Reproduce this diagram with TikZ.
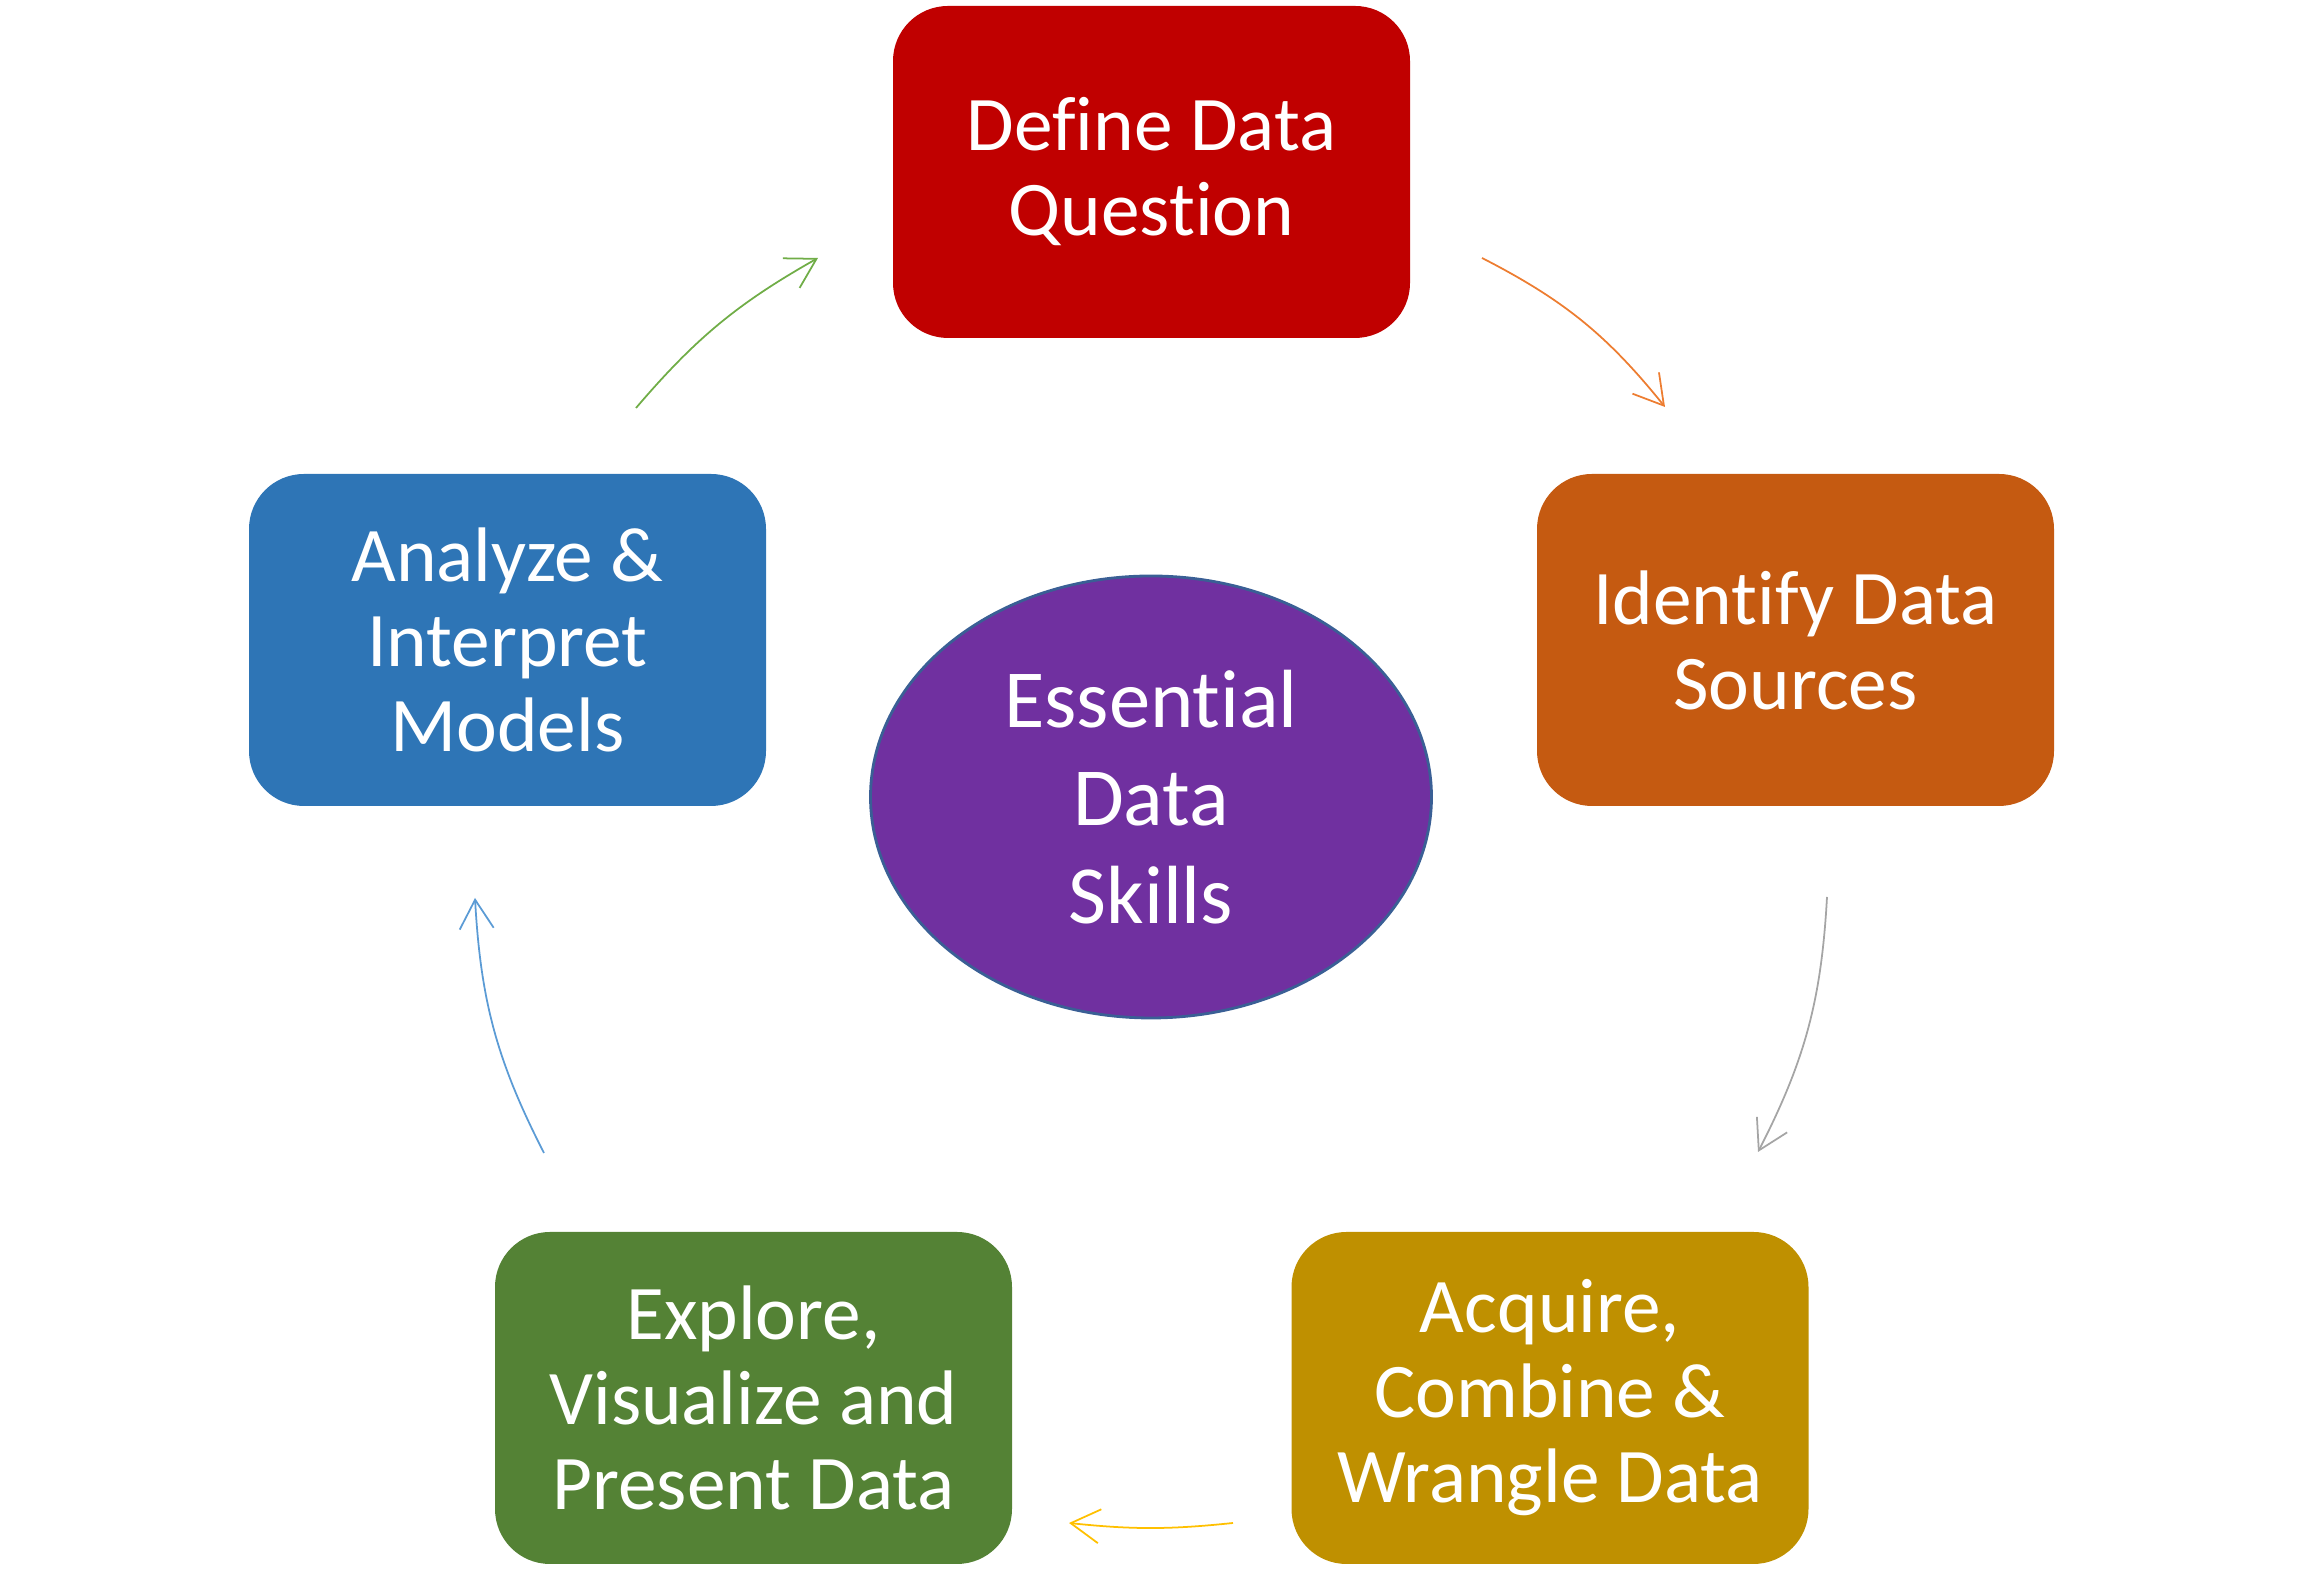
\documentclass[tikz,border=0pt]{standalone}
\usepackage{fontspec}
\setmainfont[Ligatures=NoCommon]{Carlito}
\usetikzlibrary{arrows.meta,shapes.geometric}
\definecolor{stepred}{HTML}{C00000}
\definecolor{steporange}{HTML}{C55A11}
\definecolor{stepgold}{HTML}{BF9000}
\definecolor{stepgreen}{HTML}{548235}
\definecolor{stepblue}{HTML}{2E75B6}
\definecolor{corepurple}{HTML}{7030A0}
\definecolor{coreline}{HTML}{3A5F95}
\definecolor{arrgreen}{HTML}{70AD47}
\definecolor{arrorange}{HTML}{ED7D31}
\definecolor{arrgray}{HTML}{A5A5A5}
\definecolor{arryellow}{HTML}{FFC000}
\definecolor{arrblue}{HTML}{5B9BD5}
\begin{document}
\begin{tikzpicture}[
    stepbox/.style={rounded corners=0.55cm,minimum width=5.17cm,minimum height=3.32cm,
        align=center,text=white,font=\fontsize{22}{24.2}\selectfont},
    cyclearrow/.style={line width=0.5pt,-{Straight Barb[length=0.29cm,width=0.34cm]}}]
        \useasboundingbox (0,0) rectangle (23.03,15.91);
        %CENTRE
        \node[ellipse,fill=corepurple,draw=coreline,line width=0.8pt,minimum width=5.61cm,minimum height=4.42cm,
            align=center,text=white,font=\fontsize{23.5}{27.9}\selectfont] (core) at (11.51,7.94) {Essential\\Data\\Skills};
        %STEPS
        \node[stepbox,fill=stepred] (define) at (11.515,14.19) {Define Data\\Question};
        \node[stepbox,fill=steporange] (identify) at (17.955,9.51) {Identify Data\\Sources};
        \node[stepbox,fill=stepgold] (acquire) at (15.50,1.93) {Acquire,\\Combine \&\\Wrangle Data};
        \node[stepbox,fill=stepgreen] (explore) at (7.535,1.93) {Explore,\\Visualize and\\Present Data};
        \node[stepbox,fill=stepblue] (analyze) at (5.075,9.51) {Analyze \&\\Interpret\\Models};
        %ARROW ENDS
        \coordinate (a1) at (6.36,11.83);  \coordinate (d1) at (8.18,13.33);
        \coordinate (d2) at (14.82,13.33); \coordinate (i1) at (16.65,11.84);
        \coordinate (i2) at (18.27,6.94);  \coordinate (q1) at (17.58,4.39);
        \coordinate (q2) at (12.33,0.68);  \coordinate (e1) at (10.69,0.68);
        \coordinate (e2) at (5.44,4.38);   \coordinate (a2) at (4.75,6.93);
        %ARROWS
        \draw[cyclearrow,arrgreen] (a1) to[bend left=10] (d1);
        \draw[cyclearrow,arrorange] (d2) to[bend left=12] (i1);
        \draw[cyclearrow,arrgray] (i2) to[bend left=12] (q1);
        \draw[cyclearrow,arryellow] (q2) to[bend left=6] (e1);
        \draw[cyclearrow,arrblue] (e2) to[bend left=12] (a2);
    \end{tikzpicture}
\end{document}
